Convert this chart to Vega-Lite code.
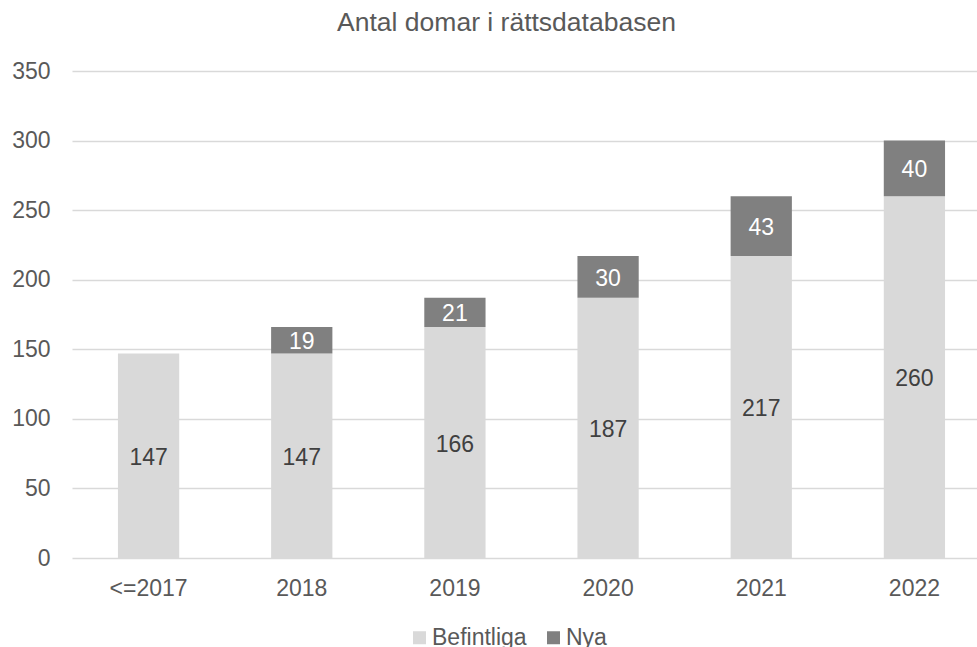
{
  "$schema": "https://vega.github.io/schema/vega-lite/v6.json",
  "width": 905,
  "height": 487,
  "autosize": "none",
  "padding": {"left": 72, "top": 71, "right": 0, "bottom": 89},
  "config": {"font": "Liberation Sans", "view": {"stroke": null}},
  "title": {
    "text": "Antal domar i rättsdatabasen",
    "fontSize": 26.5,
    "fontWeight": "normal",
    "color": "#595959",
    "anchor": "middle",
    "frame": "group",
    "dx": -18,
    "offset": 24
  },
  "data": {
    "values": [
      {"cat": "<=2017", "type": "Befintliga", "value": 147},
      {"cat": "2018", "type": "Befintliga", "value": 147},
      {"cat": "2018", "type": "Nya", "value": 19},
      {"cat": "2019", "type": "Befintliga", "value": 166},
      {"cat": "2019", "type": "Nya", "value": 21},
      {"cat": "2020", "type": "Befintliga", "value": 187},
      {"cat": "2020", "type": "Nya", "value": 30},
      {"cat": "2021", "type": "Befintliga", "value": 217},
      {"cat": "2021", "type": "Nya", "value": 43},
      {"cat": "2022", "type": "Befintliga", "value": 260},
      {"cat": "2022", "type": "Nya", "value": 40}
    ]
  },
  "transform": [
    {"stack": "value", "groupby": ["cat"], "sort": [{"field": "type", "order": "ascending"}], "as": ["y0", "y1"]},
    {"calculate": "(datum.y0 + datum.y1) / 2", "as": "mid"}
  ],
  "encoding": {
    "x": {
      "field": "cat",
      "type": "nominal",
      "sort": null,
      "scale": {"range": [0, 919], "paddingInner": 0.6, "paddingOuter": 0.3},
      "axis": {
        "title": null,
        "labelAngle": 0,
        "labelFontSize": 23,
        "labelColor": "#595959",
        "labelPadding": 19,
        "ticks": false,
        "domain": false
      }
    }
  },
  "layer": [
    {
      "mark": {"type": "bar"},
      "encoding": {
        "y": {
          "field": "y0",
          "type": "quantitative",
          "scale": {"domain": [0, 350]},
          "axis": {
            "title": null,
            "values": [0, 50, 100, 150, 200, 250, 300, 350],
            "labelFontSize": 23,
            "labelColor": "#595959",
            "labelPadding": 22,
            "ticks": false,
            "domain": false,
            "gridColor": "#d9d9d9",
            "gridWidth": 1.5
          }
        },
        "y2": {"field": "y1"},
        "color": {
          "field": "type",
          "type": "nominal",
          "scale": {"domain": ["Befintliga", "Nya"], "range": ["#d9d9d9", "#808080"]},
          "legend": {
            "title": null,
            "orient": "none",
            "legendX": 336,
            "legendY": 555,
            "direction": "horizontal",
            "symbolType": "square",
            "symbolSize": 169,
            "symbolStrokeWidth": 0,
            "labelFontSize": 23,
            "labelColor": "#595959",
            "labelOffset": 1,
            "columnPadding": 15
          }
        }
      }
    },
    {
      "mark": {"type": "text", "fontSize": 23, "baseline": "middle", "dy": 2},
      "encoding": {
        "y": {"field": "mid", "type": "quantitative"},
        "text": {"field": "value", "type": "quantitative"},
        "color": {
          "condition": {"test": "datum.type === 'Nya'", "value": "#ffffff"},
          "value": "#404040"
        }
      }
    }
  ]
}
